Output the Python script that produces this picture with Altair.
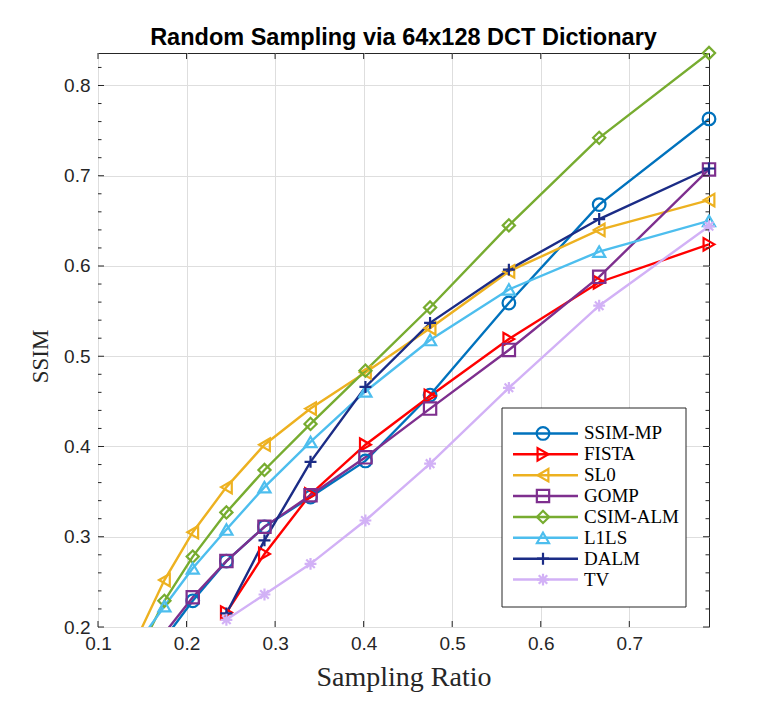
import altair as alt
import pandas as pd

# Sampling ratios (x positions shared by all methods)
ratio = [0.148, 0.175, 0.207, 0.245, 0.288, 0.340, 0.402, 0.475, 0.564, 0.666, 0.790]

# SSIM per method; None = no measurement at that ratio
ssim_mp = [None, 0.187, 0.229, 0.273, 0.311, 0.344, 0.384, 0.457, 0.559, 0.668, 0.763]
fista   = [None, None, None, 0.216, 0.281, 0.347, 0.402, 0.456, 0.519, 0.582, 0.624]
sl0     = [0.196, 0.252, 0.305, 0.355, 0.402, 0.442, 0.482, 0.531, 0.594, 0.640, 0.673]
gomp    = [None, 0.193, 0.233, 0.273, 0.311, 0.346, 0.388, 0.442, 0.507, 0.588, 0.707]
csim    = [0.176, 0.229, 0.278, 0.327, 0.374, 0.425, 0.484, 0.554, 0.645, 0.742, 0.836]
l1ls    = [0.186, 0.223, 0.265, 0.308, 0.355, 0.405, 0.461, 0.518, 0.574, 0.616, 0.650]
dalm    = [None, None, None, 0.215, 0.296, 0.383, 0.466, 0.537, 0.596, 0.652, 0.708]
tv      = [None, None, None, 0.208, 0.236, 0.270, 0.318, 0.381, 0.465, 0.556, 0.644]

methods = ["SSIM-MP", "FISTA", "SL0", "GOMP", "CSIM-ALM", "L1LS", "DALM", "TV"]
series = [ssim_mp, fista, sl0, gomp, csim, l1ls, dalm, tv]
colors = ["#0072BD", "#FF0000", "#EDB120", "#7E2F8E", "#77AC30", "#4DBEEE", "#1B2C86", "#D2B1F6"]

PLUS = "M-1,0L1,0M0,-1L0,1"
STAR = "M-1,0L1,0M0,-1L0,1M-0.72,-0.72L0.72,0.72M-0.72,0.72L0.72,-0.72"
shapes = ["circle", "triangle-right", "triangle-left", "square", "diamond", "triangle-up", PLUS, STAR]
sizes = [160, 140, 140, 110, 180, 140, 200, 180]

x_major = [0.1, 0.2, 0.3, 0.4, 0.5, 0.6, 0.7]
y_major = [0.2, 0.3, 0.4, 0.5, 0.6, 0.7, 0.8]
y_minor = [round(0.2 + 0.02 * i, 2) for i in range(1, 32) if i % 5]

W, H = 611, 574
INK = "#262626"

rows = []
for name, ys in zip(methods, series):
    for x, y in zip(ratio, ys):
        if y is not None:
            rows.append({"method": name, "ratio": x, "ssim": y})
df = pd.DataFrame(rows)
df_pts = df[df["ssim"] >= 0.2]

x_scale = alt.Scale(domain=[0.1, 0.79], nice=False, zero=False)
y_scale = alt.Scale(domain=[0.2, 0.836], nice=False, zero=False)
color = alt.Color("method:N", scale=alt.Scale(domain=methods, range=colors), legend=None)
shape = alt.Shape("method:N", scale=alt.Scale(domain=methods, range=shapes), legend=None)
size = alt.Size("method:N", scale=alt.Scale(domain=methods, range=sizes), legend=None)

x_axis = alt.Axis(
    values=x_major, format=".1f", grid=True, gridColor="#dedede", ticks=False, domain=False,
    labelFont="Liberation Sans", labelFontSize=19, labelColor=INK, labelPadding=7,
    labelFlush=False,
    title="Sampling Ratio", titleFont="Liberation Serif", titleFontSize=28,
    titleFontWeight="normal", titleColor=INK, titleY=58, titleBaseline="alphabetic",
)
y_axis = alt.Axis(
    values=y_major, format=".1f", grid=True, gridColor="#dedede", ticks=False, domain=False,
    labelFont="Liberation Sans", labelFontSize=19, labelColor=INK, labelPadding=8,
    labelFlush=False,
    title="SSIM", titleFont="Liberation Serif", titleFontSize=23, titleFontWeight="normal",
    titleColor=INK, titleAngle=-90, titleX=-58, titleY=303, titleAlign="center",
    titleBaseline="middle",
)
X = alt.X("ratio:Q", scale=x_scale, axis=x_axis)
Y = alt.Y("ssim:Q", scale=y_scale, axis=y_axis)

lines = alt.Chart(df).mark_line(clip=True, strokeWidth=2.4).encode(
    x=X, y=Y, color=color, detail="method:N", order="ratio:Q",
)

points = alt.Chart(df_pts).mark_point(filled=False, strokeWidth=2.2, opacity=1).encode(
    x=X, y=Y, color=color, shape=shape, size=size,
)


def y_ticks(vals, length):
    base = alt.Chart(pd.DataFrame({"ssim": vals})).mark_rule(color=INK, strokeWidth=1)
    left = base.encode(y=Y, x=alt.value(0), x2=alt.value(length))
    right = base.encode(y=Y, x=alt.value(W - length), x2=alt.value(W))
    return [left, right]


def x_ticks(vals, length):
    base = alt.Chart(pd.DataFrame({"ratio": vals})).mark_rule(color=INK, strokeWidth=1)
    bottom = base.encode(x=X, y=alt.value(H), y2=alt.value(H - length))
    top = base.encode(x=X, y=alt.value(0), y2=alt.value(length))
    return [bottom, top]


main = alt.layer(lines, points, *y_ticks(y_major, 6), *y_ticks(y_minor, 3.5), *x_ticks(x_major, 6))

# Legend box drawn inside the plot area
leg_df = pd.DataFrame({"method": methods})
leg_y = alt.Y("method:N", sort=methods,
              scale=alt.Scale(domain=methods, range=[370, 537], padding=0), axis=None)

box = alt.Chart(pd.DataFrame({"k": [0]})).mark_rect(fill="white", stroke=INK, strokeWidth=1).encode(
    x=alt.value(404), x2=alt.value(588), y=alt.value(355), y2=alt.value(554)
)
leg_lines = alt.Chart(leg_df).mark_rule(strokeWidth=2.4).encode(
    x=alt.value(415), x2=alt.value(480), y=leg_y, color=color
)
leg_pts = alt.Chart(leg_df).mark_point(filled=False, strokeWidth=2.2, opacity=1).encode(
    x=alt.value(445), y=leg_y, color=color, shape=shape, size=size
)
leg_text = alt.Chart(leg_df).mark_text(
    align="left", baseline="middle", font="Liberation Serif", fontSize=19, color="black"
).encode(x=alt.value(486), y=leg_y, text="method:N")

legend = alt.layer(box, leg_lines, leg_pts, leg_text)

chart = (
    alt.layer(main, legend)
    .resolve_scale(y="independent")
    .properties(
        width=W,
        height=H,
        title=alt.TitleParams(
            "Random Sampling via 64x128 DCT Dictionary", font="Liberation Sans", fontSize=23.5,
            fontWeight="bold", color="black", anchor="middle", offset=9, dy=16,
        ),
        autosize=alt.AutoSizeParams(type="none"),
        padding={"left": 98, "top": 53, "right": 782 - 98 - W, "bottom": 705 - 53 - H},
        background="white",
    )
    .configure_view(stroke=INK, strokeWidth=1)
)

chart.save("out.html", embed_options={"renderer": "svg", "actions": False})
